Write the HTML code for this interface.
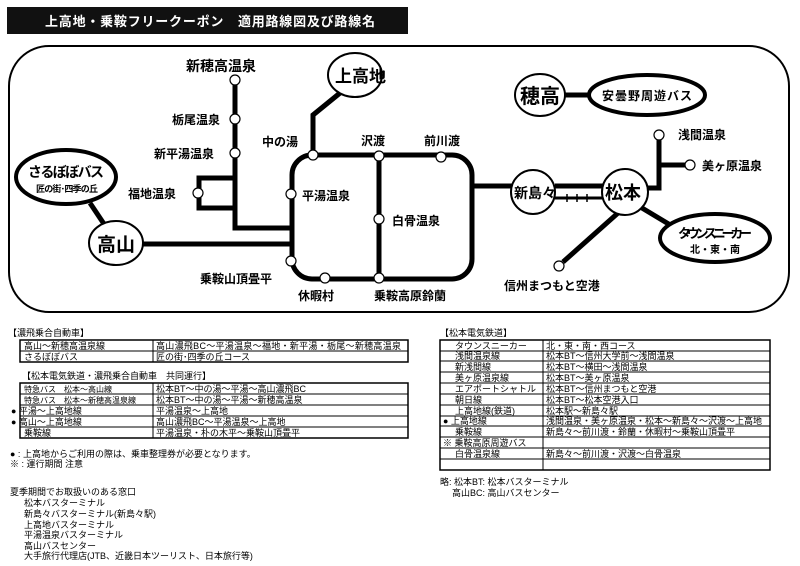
<!DOCTYPE html>
<html><head><meta charset="utf-8"><style>
body{margin:0;background:#fff;width:800px;height:566px;overflow:hidden}
svg{display:block}
text{font-family:"Liberation Sans","Noto Sans CJK JP",sans-serif;fill:#000}
.b{font-weight:bold}
.t{font-size:9px}
</style></head><body>
<svg width="800" height="566" viewBox="0 0 800 566" xmlns="http://www.w3.org/2000/svg">
<rect x="7" y="7" width="401" height="27" fill="#111"/>
<text x="45" y="26" class="b" font-size="13" textLength="330" style="fill:#fff">上高地・乗鞍フリークーポン　適用路線図及び路線名</text>
<rect x="9" y="46" width="780" height="266" rx="40" fill="none" stroke="#000" stroke-width="2"/>
<g stroke="#000" stroke-width="5" fill="none">
<rect x="292" y="155" width="180" height="124" rx="20"/>
<line x1="379" y1="155" x2="379" y2="279"/>
<polyline points="235,80 235,228 292,228"/>
<polyline points="235,178 199,178 199,208 235,208"/>
<line x1="140" y1="244" x2="292" y2="244"/>
<polyline points="313,155 313,115 340,93"/>
<line x1="472" y1="186" x2="512" y2="186"/>
<line x1="90" y1="203" x2="104" y2="224"/>
<line x1="555" y1="186" x2="603" y2="186"/>
<line x1="555" y1="198" x2="603" y2="198" stroke-width="3"/>
<polyline points="659,140 659,188 646,188"/>
<line x1="659" y1="165" x2="685" y2="165"/>
<line x1="642" y1="208" x2="672" y2="226"/>
<line x1="618" y1="213" x2="563" y2="262"/>
<line x1="565" y1="95" x2="590" y2="95"/>
</g>
<g stroke="#000" stroke-width="1.5"><line x1="567" y1="194" x2="567" y2="202"/><line x1="577" y1="194" x2="577" y2="202"/><line x1="587" y1="194" x2="587" y2="202"/></g>
<g fill="#fff" stroke="#000" stroke-width="1.2">
<circle cx="235" cy="80" r="5"/><circle cx="235" cy="119" r="5"/><circle cx="235" cy="153" r="5"/>
<circle cx="198" cy="193" r="5"/>
<circle cx="313" cy="155" r="5"/><circle cx="379" cy="156" r="5"/><circle cx="441" cy="157" r="5"/>
<circle cx="291" cy="194" r="5"/><circle cx="379" cy="219" r="5"/><circle cx="291" cy="261" r="5"/>
<circle cx="325" cy="278" r="5"/><circle cx="379" cy="278" r="5"/>
<circle cx="659" cy="135" r="5"/><circle cx="690" cy="165" r="5"/><circle cx="559" cy="266" r="5"/>
</g>
<g fill="#fff" stroke="#000">
<ellipse cx="66" cy="177" rx="50" ry="27" stroke-width="4"/>
<ellipse cx="116" cy="243" rx="27" ry="22" stroke-width="2"/>
<ellipse cx="355" cy="75" rx="27" ry="22" stroke-width="2"/>
<ellipse cx="540" cy="95" rx="25" ry="21" stroke-width="2"/>
<ellipse cx="647" cy="95" rx="58" ry="20" stroke-width="4"/>
<circle cx="533" cy="192" r="22" stroke-width="2"/>
<circle cx="625" cy="192" r="23" stroke-width="2"/>
<ellipse cx="715" cy="238" rx="55" ry="24" stroke-width="4"/>
</g>
<g class="b" font-size="12">
<text x="186" y="71" font-size="14">新穂高温泉</text>
<text x="172" y="124">栃尾温泉</text>
<text x="154" y="158">新平湯温泉</text>
<text x="128" y="198">福地温泉</text>
<text x="262" y="146">中の湯</text>
<text x="361" y="145">沢渡</text>
<text x="424" y="145">前川渡</text>
<text x="302" y="200">平湯温泉</text>
<text x="392" y="225">白骨温泉</text>
<text x="200" y="283">乗鞍山頂畳平</text>
<text x="298" y="300">休暇村</text>
<text x="374" y="300">乗鞍高原鈴蘭</text>
<text x="678" y="139">浅間温泉</text>
<text x="702" y="170">美ヶ原温泉</text>
<text x="504" y="290">信州まつもと空港</text>
<text x="28" y="177" font-size="14" textLength="76">さるぼぼバス</text>
<text x="36" y="192" font-size="9" textLength="62">匠の街･四季の丘</text>
<text x="97" y="251" font-size="19">高山</text>
<text x="335" y="82" font-size="17">上高地</text>
<text x="520" y="103" font-size="20">穂高</text>
<text x="602" y="100" font-size="12" textLength="90">安曇野周遊バス</text>
<text x="514" y="198" font-size="14">新島々</text>
<text x="605" y="199" font-size="18">松本</text>
<text x="678" y="238" font-size="13" textLength="74">タウンスニーカー</text>
<text x="690" y="253" font-size="10">北・東・南</text>
</g>
<g class="t">
<text x="8" y="336">【濃飛乗合自動車】</text>
<text x="22" y="379">【松本電気鉄道・濃飛乗合自動車　共同運行】</text>
<text x="440" y="336">【松本電気鉄道】</text>
</g>
<g fill="none" stroke="#000" stroke-width="1">
<rect x="20" y="340" width="388" height="22" stroke-width="1.5"/>
<line x1="20" y1="351" x2="408" y2="351"/><line x1="153" y1="340" x2="153" y2="362"/>
<rect x="20" y="383" width="388" height="55" stroke-width="1.5"/>
<line x1="20" y1="394" x2="408" y2="394"/><line x1="20" y1="405" x2="408" y2="405"/><line x1="20" y1="416" x2="408" y2="416"/><line x1="20" y1="427" x2="408" y2="427"/><line x1="153" y1="383" x2="153" y2="438"/>
<rect x="440" y="340" width="330" height="130" stroke-width="1.5"/>
<line x1="543" y1="340" x2="543" y2="470"/>
<line x1="440" y1="351" x2="770" y2="351"/><line x1="440" y1="361" x2="770" y2="361"/><line x1="440" y1="372" x2="770" y2="372"/><line x1="440" y1="383" x2="770" y2="383"/><line x1="440" y1="394" x2="770" y2="394"/><line x1="440" y1="405" x2="770" y2="405"/><line x1="440" y1="416" x2="770" y2="416"/><line x1="440" y1="426" x2="770" y2="426"/><line x1="440" y1="437" x2="770" y2="437"/><line x1="440" y1="448" x2="770" y2="448"/><line x1="440" y1="459" x2="770" y2="459"/>
</g>
<g class="t">
<text x="24" y="349">高山～新穂高温泉線</text><text x="156" y="349" textLength="245">高山濃飛BC～平湯温泉～福地・新平湯・栃尾～新穂高温泉</text>
<text x="24" y="360">さるぼぼバス</text><text x="156" y="360">匠の街･四季の丘コース</text>
<text x="24" y="392" font-size="8">特急バス　松本～高山線</text><text x="156" y="392">松本BT～中の湯～平湯～高山濃飛BC</text>
<text x="24" y="403" font-size="8">特急バス　松本～新穂高温泉線</text><text x="156" y="403">松本BT～中の湯～平湯～新穂高温泉</text>
<text x="11" y="414">●  平湯～上高地線</text><text x="156" y="414">平湯温泉～上高地</text>
<text x="11" y="425">●  高山～上高地線</text><text x="156" y="425">高山濃飛BC～平湯温泉～上高地</text>
<text x="24" y="436">乗鞍線</text><text x="156" y="436">平湯温泉・朴の木平～乗鞍山頂畳平</text>
<text x="455" y="349">タウンスニーカー</text><text x="546" y="349">北・東・南・西コース</text>
<text x="455" y="359">浅間温泉線</text><text x="546" y="359">松本BT～信州大学前～浅間温泉</text>
<text x="455" y="370">新浅間線</text><text x="546" y="370">松本BT～横田～浅間温泉</text>
<text x="455" y="381">美ヶ原温泉線</text><text x="546" y="381">松本BT～美ヶ原温泉</text>
<text x="455" y="392">エアポートシャトル</text><text x="546" y="392">松本BT～信州まつもと空港</text>
<text x="455" y="403">朝日線</text><text x="546" y="403">松本BT～松本空港入口</text>
<text x="455" y="414">上高地線(鉄道)</text><text x="546" y="414">松本駅～新島々駅</text>
<text x="443" y="424">● 上高地線</text><text x="546" y="424" textLength="216">浅間温泉・美ヶ原温泉・松本～新島々～沢渡～上高地</text>
<text x="455" y="435">乗鞍線</text><text x="546" y="435">新島々～前川渡・鈴蘭・休暇村～乗鞍山頂畳平</text>
<text x="443" y="446">※ 乗鞍高原周遊バス</text>
<text x="455" y="457">白骨温泉線</text><text x="546" y="457">新島々～前川渡・沢渡～白骨温泉</text>
<text x="440" y="485">略: 松本BT: 松本バスターミナル</text>
<text x="452" y="496">高山BC: 高山バスセンター</text>
<text x="10" y="457">● : 上高地からご利用の際は、乗車整理券が必要となります。</text>
<text x="10" y="467">※ : 運行期間  注意</text>
<text x="10" y="495">夏季期間でお取扱いのある窓口</text>
<text x="24" y="506">松本バスターミナル</text>
<text x="24" y="517">新島々バスターミナル(新島々駅)</text>
<text x="24" y="528">上高地バスターミナル</text>
<text x="24" y="538">平湯温泉バスターミナル</text>
<text x="24" y="549">高山バスセンター</text>
<text x="24" y="559">大手旅行代理店(JTB、近畿日本ツーリスト、日本旅行等)</text>
</g>
</svg>
</body></html>
